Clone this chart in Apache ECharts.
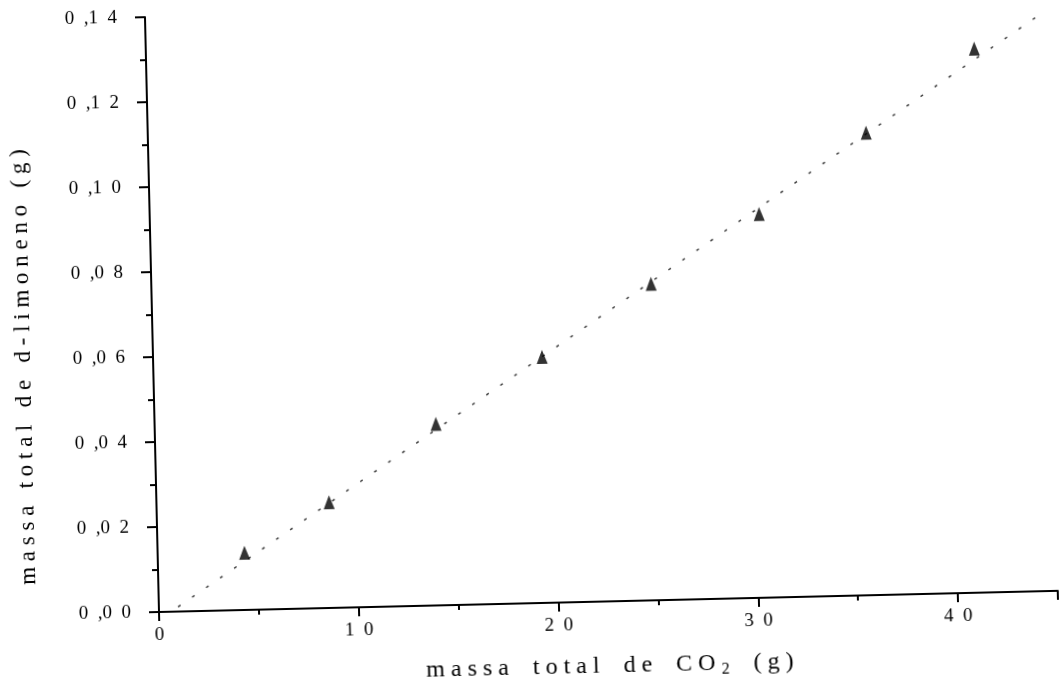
<!DOCTYPE html>
<html>
<head>
<meta charset="utf-8">
<script src="https://cdn.jsdelivr.net/npm/echarts@6/dist/echarts.min.js"></script>
<style>
  html, body { margin: 0; padding: 0; background: #fff; overflow: hidden; }
  /* scanned figure is slightly tilted, rotate round the axis origin */
  #chart {
    position: absolute; left: 0; top: 0;
    width: 1080px; height: 720px;
    transform-origin: 159px 612px;
    transform: rotate(-1.35deg);
  }
</style>
</head>
<body>
<div id="chart"></div>
<script>
// massa total de CO2 (g) vs massa total de d-limoneno (g)
const co2Mass = [4.35, 8.64, 14.08, 19.47, 25.01, 30.50, 35.95, 41.46];
const limonenoMass = [0.0135, 0.0249, 0.0427, 0.0579, 0.0745, 0.0903, 0.1088, 0.1280];

// dotted fit line ends
const fitX = [0.96, 44.9];
const fitY = [0.0011, 0.136];

const xTickValues = [0, 10, 20, 30, 40];
const xTickLabels = ['0', '1  0', '2  0', '3  0', '4  0'];
const yTickValues = [0, 0.02, 0.04, 0.06, 0.08, 0.10, 0.12, 0.14];
const yTickLabels = ['0  ,0  0', '0  ,0  2', '0  ,0  4', '0  ,0  6', '0  ,0  8', '0  ,1  0', '0  ,1  2', '0  ,1  4'];

const serif = '"Liberation Serif", "DejaVu Serif", serif';

function pickLabel(values, labels, v) {
  for (let i = 0; i < values.length; i++) {
    if (Math.abs(values[i] - v) < 1e-9) return labels[i];
  }
  return '';
}

let points = co2Mass.map((x, i) => [x, limonenoMass[i]]);
let fitLine = fitX.map((x, i) => [x, fitY[i]]);

const chart = echarts.init(document.getElementById('chart'), null, { renderer: 'canvas' });

const axisBlack = { color: '#000', width: 2 };

let option = {
  backgroundColor: '#fff',
  animation: false,
  grid: {
    left: 159,
    right: 22,
    top: 17,
    bottom: 108,
    containLabel: false,
    outerBoundsMode: 'none'
  },
  xAxis: {
    type: 'value',
    min: 0,
    max: 45,
    interval: 10,
    axisLine: { show: true, onZero: false, lineStyle: axisBlack },
    axisTick: { show: true, inside: false, length: 9, lineStyle: axisBlack },
    minorTick: { show: true, splitNumber: 2, length: 5, lineStyle: axisBlack },
    splitLine: { show: false },
    minorSplitLine: { show: false },
    axisLabel: {
      show: true,
      margin: 14,
      color: '#000',
      fontFamily: serif,
      fontSize: 19,
      showMaxLabel: false,
      formatter: v => pickLabel(xTickValues, xTickLabels, v)
    },
    name: 'm a s s a    t o t a l    d e    C O {sub|2}    ( g )',
    nameLocation: 'middle',
    nameGap: 51,
    nameTextStyle: {
      color: '#000',
      fontFamily: serif,
      fontSize: 24,
      rich: {
        sub: { fontSize: 16, fontFamily: serif, color: '#000', padding: [12, 0, 0, 0] }
      }
    }
  },
  yAxis: {
    type: 'value',
    min: 0,
    max: 0.14,
    interval: 0.02,
    axisLine: { show: true, onZero: false, lineStyle: axisBlack },
    axisTick: { show: true, inside: false, length: 10, lineStyle: axisBlack },
    minorTick: { show: true, splitNumber: 2, length: 6, lineStyle: axisBlack },
    splitLine: { show: false },
    minorSplitLine: { show: false },
    axisLabel: {
      show: true,
      margin: 28,
      color: '#000',
      fontFamily: serif,
      fontSize: 19,
      formatter: v => pickLabel(yTickValues, yTickLabels, v)
    }
  },
  graphic: [
    {
      type: 'text',
      x: 30,
      y: 364,
      rotation: Math.PI / 2,
      style: {
        text: 'm a s s a   t o t a l   d e   d - l i m o n e n o   ( g )',
        font: '23px ' + serif,
        fill: '#000',
        align: 'center',
        verticalAlign: 'middle',
        textAlign: 'center',
        textVerticalAlign: 'middle'
      }
    }
  ],
  series: [
    {
      name: 'ajuste',
      type: 'line',
      data: fitLine,
      showSymbol: false,
      symbol: 'none',
      silent: true,
      z: 1,
      lineStyle: { color: '#333', width: 1.4, type: [3, 14] }
    },
    {
      name: 'experimental',
      type: 'scatter',
      data: points,
      symbol: 'triangle',
      symbolSize: [11, 14],
      z: 3,
      itemStyle: { color: '#000' }
    }
  ]
};

chart.setOption(option);
</script>
</body>
</html>
